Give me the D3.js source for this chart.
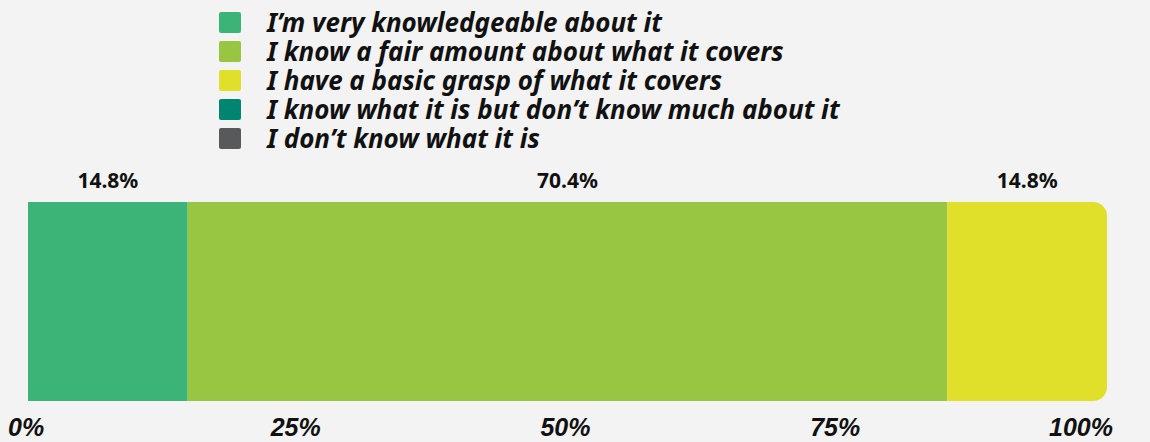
<!DOCTYPE html>
<html>
<head>
<meta charset="utf-8">
<script src="https://cdn.jsdelivr.net/npm/d3@7"></script>
<style>
  body { margin: 0; background: #f3f3f3; }
  svg { display: block; }
  .legend-label { font-family: "Noto Sans", sans-serif; font-weight: 700; font-style: italic; font-size: 26px; fill: #111; }
  .value-label { font-family: "Noto Sans", sans-serif; font-weight: 700; font-size: 21px; fill: #111; }
  .tick-label { font-family: "Liberation Sans", Arial, sans-serif; font-weight: 700; font-style: italic; font-size: 25px; fill: #111; }
</style>
</head>
<body>
<div id="chart"></div>
<script>
  var categories = [
    "I\u2019m very knowledgeable about it",
    "I know a fair amount about what it covers",
    "I have a basic grasp of what it covers",
    "I know what it is but don\u2019t know much about it",
    "I don\u2019t know what it is"
  ];
  var values = [14.8, 70.4, 14.8, 0, 0];
  var colors = ["#3cb478", "#98c542", "#e0e02a", "#008570", "#58595b"];
  var tickValues = [0, 25, 50, 75, 100];

  var width = 1150, height = 442;
  var barTop = 202, barBottom = 401, radius = 14;

  var svg = d3.select('#chart').append('svg')
    .attr('width', width)
    .attr('height', height);

  svg.append('rect')
    .attr('width', width)
    .attr('height', height)
    .attr('fill', '#f3f3f3');

  var x = d3.scaleLinear()
    .domain([0, 100])
    .range([28, 1107]);

  //stack the segments
  var segments = [];
  var acc = 0;
  values.forEach(function(v, i) {
    segments.push({ name: categories[i], value: v, x0: acc, x1: acc + v, color: colors[i] });
    acc += v;
  });

  //clip with rounded right end
  var x0 = x(0), x1 = x(100);
  var clipPath = 'M' + x0 + ',' + barTop +
    'H' + (x1 - radius) +
    'A' + radius + ',' + radius + ' 0 0 1 ' + x1 + ',' + (barTop + radius) +
    'V' + (barBottom - radius) +
    'A' + radius + ',' + radius + ' 0 0 1 ' + (x1 - radius) + ',' + barBottom +
    'H' + x0 + 'Z';
  svg.append('clipPath').attr('id', 'barclip').append('path').attr('d', clipPath);

  var bars = svg.append('g').attr('clip-path', 'url(#barclip)');
  bars.selectAll('rect')
    .data(segments.filter(function(d) { return d.value > 0; }))
    .enter().append('rect')
      .attr('x', function(d) { return x(d.x0); })
      .attr('y', barTop)
      .attr('width', function(d) { return x(d.x1) - x(d.x0); })
      .attr('height', barBottom - barTop)
      .attr('fill', function(d) { return d.color; });

  //value labels above the bar
  svg.selectAll('.value-label')
    .data(segments.filter(function(d) { return d.value > 0; }))
    .enter().append('text')
      .attr('class', 'value-label')
      .attr('x', function(d) { return (x(d.x0) + x(d.x1)) / 2; })
      .attr('y', barTop - 14)
      .attr('text-anchor', 'middle')
      .text(function(d) { return d.value.toFixed(1) + '%'; });

  //axis labels
  svg.selectAll('.tick-label')
    .data(tickValues)
    .enter().append('text')
      .attr('class', 'tick-label')
      .attr('x', function(d) {
        if (d == 0) return x(d) - 20;
        if (d == 100) return x(d) + 6;
        return x(d) - 2;
      })
      .attr('y', 436)
      .attr('text-anchor', function(d) {
        if (d == 0) return 'start';
        if (d == 100) return 'end';
        return 'middle';
      })
      .text(function(d) { return d + '%'; });

  //legend
  var legend = svg.append('g').attr('transform', 'translate(219,12)');
  var item = legend.selectAll('.legend-item')
    .data(categories)
    .enter().append('g')
      .attr('class', 'legend-item')
      .attr('transform', function(d, i) { return 'translate(0,' + (i * 29) + ')'; });

  item.append('rect')
    .attr('width', 22)
    .attr('height', 21)
    .attr('rx', 2)
    .attr('fill', function(d, i) { return colors[i]; });

  item.append('text')
    .attr('class', 'legend-label')
    .attr('x', 48)
    .attr('y', 20)
    .text(function(d) { return d; });
</script>
</body>
</html>
